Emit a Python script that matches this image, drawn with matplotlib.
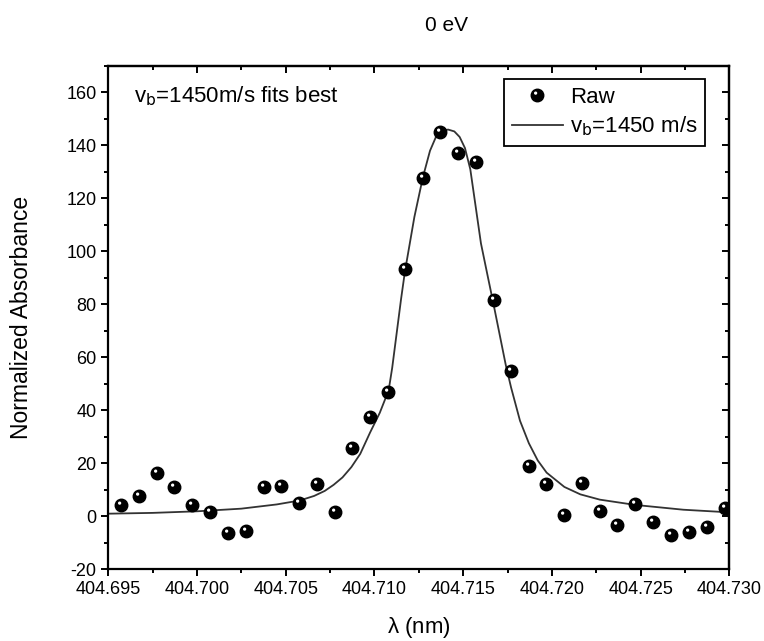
import matplotlib
matplotlib.use('Agg')
import matplotlib.pyplot as plt
from matplotlib.ticker import MultipleLocator, FormatStrFormatter
from matplotlib.legend_handler import HandlerTuple
from matplotlib.path import Path

plt.rcParams['font.family'] = ['Liberation Sans', 'DejaVu Sans']
plt.rcParams['mathtext.default'] = 'regular'
plt.rcParams['axes.unicode_minus'] = False

# raw points
wl_raw = [404.69574, 404.69673, 404.69775, 404.69873, 404.69975, 404.70076,
          404.70175, 404.70277, 404.70376, 404.70475, 404.70576, 404.70675,
          404.70777, 404.70875, 404.70977, 404.71076, 404.71172, 404.71273,
          404.71372, 404.71471, 404.71570, 404.71671, 404.71767, 404.71869,
          404.71968, 404.72069, 404.72168, 404.72270, 404.72369, 404.72470,
          404.72571, 404.72673, 404.72772, 404.72871, 404.72975]
absorb_raw = [4.0, 7.7, 16.2, 11.0, 4.0, 1.5,
              -6.3, -5.7, 10.8, 11.3, 4.8, 12.2,
              1.4, 25.7, 37.6, 46.7, 93.4, 127.8,
              145.0, 137.0, 133.7, 81.8, 54.7, 19.0,
              12.1, 0.5, 12.5, 2.0, -3.4, 4.6,
              -2.2, -7.3, -6.2, -4.0, 2.9]

# fit curve (vb = 1450 m/s)
wl_fit = [404.6950, 404.6975, 404.7000, 404.7025, 404.7045, 404.7058,
          404.7066, 404.7072, 404.7077, 404.7082, 404.7087, 404.7092,
          404.70975, 404.7103, 404.7108, 404.7110, 404.71125, 404.71150,
          404.71172, 404.71225, 404.71273, 404.71313, 404.71345, 404.71380,
          404.71415, 404.71450, 404.71480, 404.71510, 404.71540, 404.71570,
          404.71600, 404.71640, 404.71671, 404.71707, 404.71740, 404.71770,
          404.71820, 404.71870, 404.71920, 404.71970, 404.72070, 404.72160,
          404.72270, 404.72470, 404.72740, 404.73000]
absorb_fit = [0.9, 1.2, 1.8, 2.8, 4.4, 5.9,
              7.6, 9.5, 11.8, 14.6, 18.5, 23.5,
              31.5, 39.0, 47.5, 56.0, 69.0, 82.0,
              92.5, 113.0, 128.0, 138.0, 143.0, 145.5,
              146.0, 145.3, 143.2, 139.0, 131.0, 117.0,
              103.0, 90.0, 80.0, 68.0, 57.0, 48.5,
              36.0, 27.5, 21.0, 16.4, 11.0, 8.2,
              6.2, 4.2, 2.4, 1.4]

# small white highlight drawn on top of each black ball
shine_marker = Path.make_compound_path(
    Path([(0.5, 0.5)], [Path.MOVETO]),
    Path.circle((-0.15, 0.19), 0.13))

fig = plt.figure(figsize=(7.64, 6.41), dpi=100)
ax = fig.add_axes([0.1416, 0.1123, 0.8132, 0.7847])

line, = ax.plot(wl_fit, absorb_fit, color='#333333', lw=1.3, zorder=2)
balls, = ax.plot(wl_raw, absorb_raw, 'o', color='black', ms=9, ls='none', zorder=3)
shine, = ax.plot(wl_raw, absorb_raw, marker=shine_marker, color='white', mec='none',
                 ms=9, ls='none', zorder=4)

ax.set_xlim(404.695, 404.730)
ax.set_ylim(-20, 170)
ax.xaxis.set_major_locator(MultipleLocator(0.005))
ax.xaxis.set_minor_locator(MultipleLocator(0.0025))
ax.xaxis.set_major_formatter(FormatStrFormatter('%.3f'))
ax.yaxis.set_major_locator(MultipleLocator(20))
ax.yaxis.set_minor_locator(MultipleLocator(10))
ax.tick_params(which='both', direction='out', labelsize=13, width=1.4)
ax.tick_params(which='major', length=5)
ax.tick_params(which='minor', length=3)
for s in ax.spines.values():
    s.set_linewidth(1.6)

# top and right axes: ticks pointing inward, no labels
top = ax.secondary_xaxis('top')
top.xaxis.set_major_locator(MultipleLocator(0.005))
top.xaxis.set_minor_locator(MultipleLocator(0.0025))
top.tick_params(which='both', direction='in', labeltop=False, width=1.4)
top.tick_params(which='major', length=5)
top.tick_params(which='minor', length=3)
top.spines['top'].set_linewidth(1.6)
right = ax.secondary_yaxis('right')
right.yaxis.set_major_locator(MultipleLocator(20))
right.yaxis.set_minor_locator(MultipleLocator(10))
right.tick_params(which='both', direction='in', labelright=False, width=1.4)
right.tick_params(which='major', length=5)
right.tick_params(which='minor', length=3)
right.spines['right'].set_linewidth(1.6)

ax.set_xlabel(r'$\lambda$ (nm)', fontsize=16)
ax.set_ylabel('Normalized Absorbance', fontsize=16.5)
ax.xaxis.set_label_coords(0.5, -0.117)
ax.xaxis.label.set_va('center')
ax.yaxis.set_label_coords(-0.139, 0.5)
ax.yaxis.label.set_va('center')

ax.text(0.0415, 0.927, 'v$_\\mathrm{b}$=1450m/s fits best', transform=ax.transAxes,
        fontsize=16, ha='left', va='baseline')
fig.text(0.585, 0.9605, '0 eV', fontsize=15, ha='center', va='center')

leg = ax.legend([(balls, shine), line], ['Raw', 'v$_\\mathrm{b}$=1450 m/s'],
                handler_map={tuple: HandlerTuple(ndivide=1, pad=0)},
                loc='upper right', bbox_to_anchor=(0.9606, 0.974), borderaxespad=0,
                fontsize=16, fancybox=False, edgecolor='black', framealpha=1,
                handlelength=2.3, handletextpad=0.3, borderpad=0.35, labelspacing=0.3)
leg.get_frame().set_linewidth(1.3)

fig.savefig('out.png', dpi=100)
